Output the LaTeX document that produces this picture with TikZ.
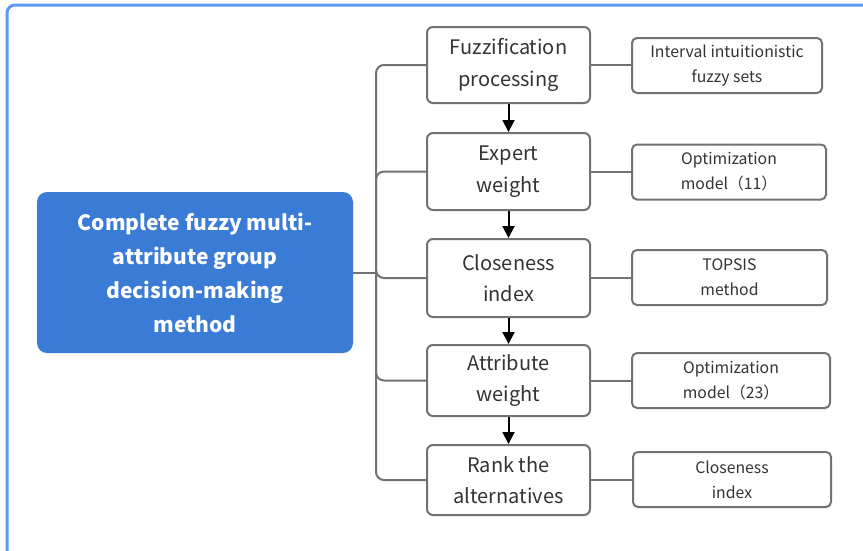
\documentclass[tikz,border=0pt]{standalone}
\usepackage{fontspec}
\setmainfont{Noto Sans CJK SC}
\usetikzlibrary{arrows.meta}
\definecolor{frameblue}{HTML}{5B9CF0}
\definecolor{mainblue}{HTML}{3A7BD5}
\definecolor{boxgray}{HTML}{727272}
\definecolor{txtgray}{HTML}{333333}
\begin{document}
\begin{tikzpicture}[x=1pt,y=-1pt,
  midbox/.style={draw=boxgray, line width=2pt, rounded corners=6pt, minimum width=163pt, align=center,
    font=\fontsize{20}{31.5}\selectfont, text=txtgray, inner sep=0pt,
    execute at begin node={\rule{0pt}{24pt}}},
  sidebox/.style={draw=boxgray, line width=2pt, rounded corners=5pt, minimum height=55pt, align=center,
    font=\fontsize{15.8}{25}\selectfont, text=txtgray, inner sep=0pt,
    execute at begin node={\rule{0pt}{19.5pt}}},
  mainbox/.style={fill=mainblue, rounded corners=10pt, minimum width=316pt, minimum height=161pt, align=center,
    font=\fontsize{21}{34}\selectfont\bfseries, text=white, inner sep=0pt},
  conn/.style={draw=boxgray, line width=2pt},
  flow/.style={draw=black, line width=2pt, -{Triangle[length=12pt,width=12pt]}}
]
\useasboundingbox (0,0) rectangle (863,550);
\clip (0,0) rectangle (863,550);
\fill[white] (0,0) rectangle (863,550);
\draw[frameblue, line width=3pt, rounded corners=8pt] (7,5) rectangle (900,600);

\node[mainbox] (main) at (195,272.5) {Complete fuzzy multi-\\attribute group\\decision-making\\method};

\node[midbox, minimum height=76pt] (m1) at (508.5,65) {Fuzzification\\processing};
\node[midbox, minimum height=77pt] (m2) at (508.5,171.5) {Expert\\weight};
\node[midbox, minimum height=78pt] (m3) at (508.5,278) {Closeness\\index};
\node[midbox, minimum height=71pt] (m4) at (508.5,380.5) {Attribute\\weight};
\node[midbox, minimum height=70pt] (m5) at (508.5,480) {Rank the\\alternatives};

\node[sidebox, minimum width=190pt] (r1) at (727,65.5) {Interval intuitionistic\\fuzzy sets};
\node[sidebox, minimum width=194pt] (r2) at (729,172) {Optimization\\model（11）};
\node[sidebox, minimum width=195pt] (r3) at (729.5,277.5) {TOPSIS\\method};
\node[sidebox, minimum width=198pt] (r4) at (731,380.5) {Optimization\\model（23）};
\node[sidebox, minimum width=198pt] (r5) at (732,479.5) {Closeness\\index};

\coordinate (J) at (376,273);
\draw[conn] (main.east |- J) -- (J);
\foreach \i in {1,2,3,4,5} {
  \draw[conn, rounded corners=8pt] (J) |- (m\i.west);
  \draw[conn] (m\i.east) -- (r\i.west |- m\i.east);
}
\foreach \a/\b in {m1/m2,m2/m3,m3/m4,m4/m5} {
  \draw[flow] (\a.south) -- (\b.north);
}
\end{tikzpicture}
\end{document}
